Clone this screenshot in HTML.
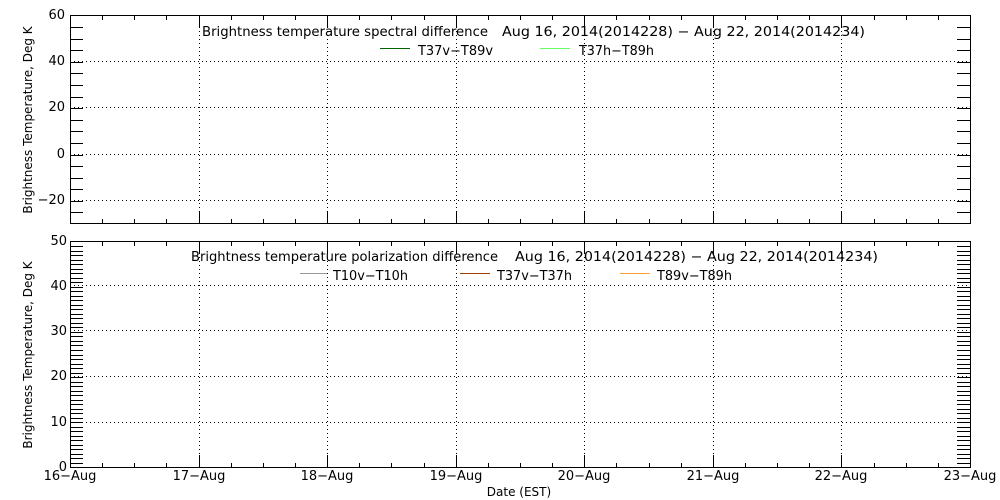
<!DOCTYPE html>
<html><head><style>body{margin:0;background:#fff}svg{display:block}text{font-family:"DejaVu Sans","Liberation Sans",sans-serif;font-size:13px;fill:#000;white-space:pre}line,rect{shape-rendering:crispEdges}</style></head>
<body>
<svg width="1000" height="500" xmlns="http://www.w3.org/2000/svg">
<rect x="70.5" y="15.5" width="900" height="208" stroke="#000" fill="none"/>
<g stroke="#000" stroke-dasharray="1,3" stroke-width="1">
<line x1="70" y1="61.5" x2="970" y2="61.5"/>
<line x1="70" y1="107.5" x2="970" y2="107.5"/>
<line x1="70" y1="154.5" x2="970" y2="154.5"/>
<line x1="70" y1="200.5" x2="970" y2="200.5"/>
<line x1="70" y1="330.5" x2="970" y2="330.5"/>
<line x1="70" y1="285.5" x2="970" y2="285.5"/>
<line x1="70" y1="376.5" x2="970" y2="376.5"/>
<line x1="70" y1="422.5" x2="970" y2="422.5"/>
<line x1="199.5" y1="15" x2="199.5" y2="224"/><line x1="327.5" y1="15" x2="327.5" y2="224"/><line x1="456.5" y1="15" x2="456.5" y2="224"/><line x1="584.5" y1="15" x2="584.5" y2="224"/><line x1="713.5" y1="15" x2="713.5" y2="224"/><line x1="841.5" y1="15" x2="841.5" y2="224"/>
<line x1="199.5" y1="241" x2="199.5" y2="468"/><line x1="327.5" y1="241" x2="327.5" y2="468"/><line x1="456.5" y1="241" x2="456.5" y2="468"/><line x1="584.5" y1="241" x2="584.5" y2="468"/><line x1="713.5" y1="241" x2="713.5" y2="468"/><line x1="841.5" y1="241" x2="841.5" y2="468"/>
</g>
<rect x="70.5" y="241.5" width="900" height="226" stroke="#000" fill="none"/>
<g id="ticks" stroke="#000"></g>
<g style="font-size:11px" text-anchor="end">
<text x="65" y="19">60</text>
<text x="65" y="65">40</text>
<text x="65" y="111">20</text>
<text x="65" y="158">0</text>
<text x="65" y="204">−20</text>
<text x="67" y="245">50</text>
<text x="67" y="290">40</text>
<text x="67" y="335">30</text>
<text x="67" y="380">20</text>
<text x="67" y="426">10</text>
<text x="67" y="471">0</text>
</g>
<g text-anchor="middle" style="font-size:11px">
<text x="70" y="480">16−Aug</text><text x="199" y="480">17−Aug</text><text x="327" y="480">18−Aug</text><text x="456" y="480">19−Aug</text><text x="584" y="480">20−Aug</text><text x="713" y="480">21−Aug</text><text x="841" y="480">22−Aug</text><text x="970" y="480">23−Aug</text>
</g>
<text x="519" y="496" text-anchor="middle" style="font-size:12px">Date (EST)</text>
<text transform="translate(32,120) rotate(-90)" text-anchor="middle" style="font-size:12px">Brightness Temperature, Deg K</text>
<text transform="translate(32,355) rotate(-90)" text-anchor="middle" style="font-size:12px">Brightness Temperature, Deg K</text>
<text x="202" y="36" textLength="286" lengthAdjust="spacingAndGlyphs">Brightness temperature spectral difference</text>
<text x="502" y="36" textLength="363" lengthAdjust="spacingAndGlyphs">Aug 16, 2014(2014228) − Aug 22, 2014(2014234)</text>
<text x="191" y="261" textLength="307" lengthAdjust="spacingAndGlyphs">Brightness temperature polarization difference</text>
<text x="515" y="261" textLength="363" lengthAdjust="spacingAndGlyphs">Aug 16, 2014(2014228) − Aug 22, 2014(2014234)</text>
<line x1="380" y1="48.5" x2="410" y2="48.5" stroke="#006400"/><text x="418" y="55" textLength="75" lengthAdjust="spacingAndGlyphs">T37v−T89v</text>
<line x1="540" y1="48.5" x2="570" y2="48.5" stroke="#66ff66"/><text x="579" y="55" textLength="75" lengthAdjust="spacingAndGlyphs">T37h−T89h</text>
<line x1="300" y1="273.5" x2="327" y2="273.5" stroke="#999"/><text x="333" y="280" textLength="75" lengthAdjust="spacingAndGlyphs">T10v−T10h</text>
<line x1="460" y1="273.5" x2="490" y2="273.5" stroke="#a04000"/><text x="497" y="280" textLength="75" lengthAdjust="spacingAndGlyphs">T37v−T37h</text>
<line x1="620" y1="273.5" x2="650" y2="273.5" stroke="#ffa030"/><text x="657" y="280" textLength="75" lengthAdjust="spacingAndGlyphs">T89v−T89h</text>
</svg>
<script>
var g=document.getElementById('ticks'),s='';
function L(a,b,c,d){s+='<line x1="'+a+'" y1="'+b+'" x2="'+c+'" y2="'+d+'"/>';}
for(var i=0;i<=28;i++){var x=Math.round(70+i*900/28)+.5;
 var len=(i%4==0)?13:5;
 L(x,15,x,15+len);L(x,224,x,224-len);L(x,241,x,241+len);L(x,468,x,468-len);}
for(var v=-25;v<=55;v+=5){var y=Math.round(224-(v+30)*208.5/90)+.5;L(70,y,83,y);L(970,y,957,y);}
for(var v=1;v<50;v++){var y=Math.round(467.5-v*226/50)+.5;L(70,y,83,y);L(970,y,957,y);}
g.innerHTML=s;
</script>
</body></html>
